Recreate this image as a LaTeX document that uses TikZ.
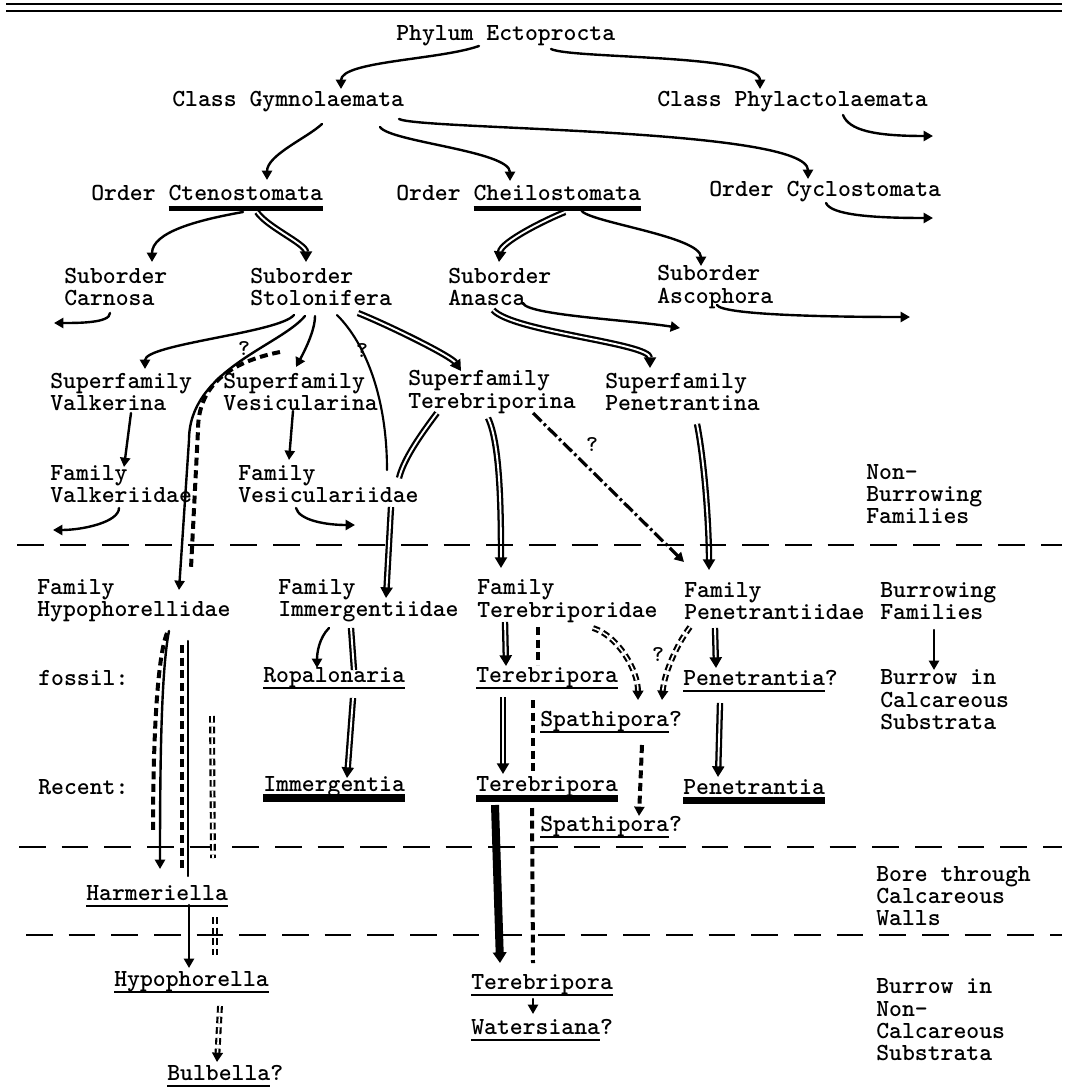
\documentclass[tikz,border=0pt]{standalone}
\usepackage{fontspec}
\usetikzlibrary{arrows.meta}

\newsavebox\ulbox
\newcommand\ulmark[3]{\sbox\ulbox{#3}\rlap{\smash{\rule[-#1]{\wd\ulbox}{#2}}}\usebox\ulbox}
\newcommand\thinul[1]{\ulmark{4.6pt}{1.3pt}{#1}}
\newcommand\orderul[1]{\ulmark{7.9pt}{3.8pt}{#1}}
\newcommand\heavyul[1]{\ulmark{7.5pt}{5.5pt}{#1}}

\tikzset{
  taxon/.style={font=\fontsize{18.4}{16.8}\selectfont\ttfamily\bfseries, inner sep=0pt, anchor=west, align=left},
  query/.style={font=\fontsize{17}{17}\selectfont\ttfamily\bfseries, inner sep=0pt},
  arr/.style={line width=1.8pt, line cap=round, -{Triangle[length=7pt,width=7.5pt]}},
  link/.style={line width=1.6pt, line cap=round},
  dbl/.style={double, double distance=1.4pt, line width=1.7pt},
  dblarr/.style={dbl, -{Triangle[length=8pt,width=9pt]}},
  brk/.style={line width=3pt, dash pattern=on 6pt off 3.5pt},
  brkarr/.style={brk, -{Triangle[length=7pt,width=7.5pt]}},
  brkdbl/.style={double, double distance=1.2pt, line width=1.6pt, dash pattern=on 5pt off 3pt},
  brkdblarr/.style={brkdbl, -{Triangle[length=7pt,width=8pt]}},
  dotarr/.style={line width=2.4pt, dash pattern=on 9pt off 2.5pt on 2pt off 2.5pt, -{Triangle[length=7pt,width=7.5pt]}},
  heavyarr/.style={line width=6pt, -{Triangle[length=8pt,width=10pt]}},
  divider/.style={line width=2.2pt, dash pattern=on 20pt off 12pt},
}

\begin{document}
\begin{tikzpicture}[x=0.75pt,y=-0.75pt]
\useasboundingbox (0,0) rectangle (1065,1088);

\draw[line width=1.1pt] (6,4) -- (1062,4);
\draw[line width=1.5pt] (6,11) -- (1062,11);

\node[taxon] (phylum) at (396,36) {Phylum Ectoprocta};
\node[taxon] (gymno) at (172,102) {Class Gymnolaemata};
\node[taxon] (phylacto) at (657,102) {Class Phylactolaemata};
\node[taxon] (cteno) at (91,193) {Order \orderul{Ctenostomata}};
\node[taxon] (cheilo) at (396,193) {Order \orderul{Cheilostomata}};
\node[taxon] (cyclo) at (709,192) {Order Cyclostomata};
\node[taxon] (carnosa) at (64,287) {Suborder\\Carnosa};
\node[taxon] (stolon) at (250,287) {Suborder\\Stolonifera};
\node[taxon] (anasca) at (448,287) {Suborder\\Anasca};
\node[taxon] (ascoph) at (657,287) {Suborder\\Ascophora};
\node[taxon] (valker) at (50,392) {Superfamily\\Valkerina};
\node[taxon] (vesicu) at (223,392) {Superfamily\\Vesicularina};
\node[taxon] (tereb) at (408,392) {Superfamily\\Terebriporina};
\node[taxon] (penetr) at (605,392) {Superfamily\\Penetrantina};
\node[taxon] (valkfam) at (50,484) {Family\\Valkeriidae};
\node[taxon] (vesfam) at (238,484) {Family\\Vesiculariidae};
\node[taxon] (nonburrow) at (866,494) {Non-\\Burrowing\\Families};
\node[taxon] (hypofam) at (37,601) {Family\\Hypophorellidae};
\node[taxon] (immfam) at (278,601) {Family\\Immergentiidae};
\node[taxon] (terfam) at (477,601) {Family\\Terebriporidae};
\node[taxon] (penfam) at (684,601) {Family\\Penetrantiidae};
\node[taxon] (burrowfam) at (880,601) {Burrowing\\Families};
\node[taxon] (fossil) at (38,678) {fossil:};
\node[taxon] (ropal) at (263,678) {\thinul{Ropalonaria}};
\node[taxon] (terebA) at (476,678) {\thinul{Terebripora}};
\node[taxon] (penA) at (683,678) {\thinul{Penetrantia}?};
\node[taxon] (burrowcalc) at (880,700) {Burrow in\\Calcareous\\Substrata};
\node[taxon] (spathA) at (540,722) {\thinul{Spathipora}?};
\node[taxon] (recent) at (38,787) {Recent:};
\node[taxon] (immerg) at (263,787) {\heavyul{Immergentia}};
\node[taxon] (terebB) at (476,787) {\heavyul{Terebripora}};
\node[taxon] (penB) at (683,787) {\heavyul{Penetrantia}};
\node[taxon] (spathB) at (540,827) {\thinul{Spathipora}?};
\node[taxon] (harmer) at (86,893) {\thinul{Harmeriella}};
\node[taxon] (bore) at (876,896) {Bore through\\Calcareous\\Walls};
\node[taxon] (hypoph) at (114,982) {\thinul{Hypophorella}};
\node[taxon] (terebC) at (471,985) {\thinul{Terebripora}};
\node[taxon] (burrownon) at (876,1020) {Burrow in\\Non-\\Calcareous\\Substrata};
\node[taxon] (waters) at (471,1027) {\thinul{Watersiana}?};
\node[taxon] (bulbella) at (167,1073) {\thinul{Bulbella}?};

\node[query] (q1) at (244,349) {?};
\node[query] (q2) at (362,351) {?};
\node[query] (q3) at (592,445) {?};
\node[query] (q4) at (658,654) {?};

\coordinate (phylend) at (933,136);
\coordinate (cycloend) at (933,218);
\coordinate (carnend) at (54,323);
\coordinate (anascaend) at (680,328);
\coordinate (ascophend) at (910,317);
\coordinate (valkend) at (53,530);
\coordinate (vesend) at (355,525);
\coordinate (stolbrk) at (280,352);
\coordinate (colC) at (212,716);

\draw[arr] ([shift={(83,10)}]phylum.west) .. controls +(-40,14) and +(0,-28) .. ([shift={(169,-13)}]gymno.west);
\draw[arr] ([shift={(155,13)}]phylum.west) .. controls +(20,10) and +(0,-35) .. ([shift={(103,-13)}]phylacto.west);
\draw[arr] ([shift={(186,13)}]phylacto.west) .. controls +(6,15) and +(-60,0) .. (phylend);
\draw[arr] ([shift={(150,22)}]gymno.west) .. controls +(-15,14) and +(0,-25) .. ([shift={(176,-13)}]cteno.west);
\draw[arr] ([shift={(208,25)}]gymno.west) .. controls +(10,15) and +(0,-30) .. ([shift={(114,-12)}]cheilo.west);
\draw[arr] ([shift={(227,17)}]gymno.west) .. controls +(21,11) and +(0,-51) .. ([shift={(99,-13)}]cyclo.west);
\draw[arr] ([shift={(117,11)}]cyclo.west) .. controls +(5,12) and +(-60,0) .. (cycloend);
\draw[arr] ([shift={(152,19)}]cteno.west) .. controls +(-45,8) and +(0,-30) .. ([shift={(88,-25)}]carnosa.west);
\draw[dblarr] ([shift={(166,19)}]cteno.west) .. controls +(10,15) and +(0,-18) .. ([shift={(56,-25)}]stolon.west);
\draw[dblarr] ([shift={(169,19)}]cheilo.west) .. controls +(-20,8) and +(2,-20) .. ([shift={(51,-25)}]anasca.west);
\draw[arr] ([shift={(185,17)}]cheilo.west) .. controls +(5,12) and +(0,-30) .. ([shift={(44,-21)}]ascoph.west);

\draw[arr] ([shift={(46,26)}]carnosa.west) .. controls +(0,10) and +(25,0) .. (carnend);
\draw[arr] ([shift={(44,28)}]stolon.west) .. controls +(-15,18) and +(0,-25) .. ([shift={(95,-23)}]valker.west);
\draw[arr] ([shift={(55,29)}]stolon.west) .. controls +(-25,30) and +(0,-70) .. ++(-116,124) -- ([shift={(142,-11)}]hypofam.west);
\draw[brk] (stolbrk) .. controls +(-50,10) and +(0,-45) .. ++(-82,78) -- ([shift={(154,-33)}]hypofam.west);
\draw[arr] ([shift={(65,29)}]stolon.west) .. controls +(0,15) and +(8,-15) .. ([shift={(73,-25)}]vesicu.west);
\draw[link] ([shift={(87,28)}]stolon.west) .. controls +(30,30) and +(0,-70) .. ([shift={(149,-14)}]vesfam.west);
\draw[dblarr] ([shift={(108,26)}]stolon.west) .. controls +(30,12) and +(-10,-15) .. ([shift={(53,-21)}]tereb.west);
\draw[dbl] ([shift={(29,21)}]tereb.west) .. controls +(-15,20) and +(5,-20) .. ([shift={(161,-6)}]vesfam.west);
\draw[dblarr] ([shift={(153,23)}]vesfam.west) -- ([shift={(108,-3)}]immfam.west);
\draw[arr] ([shift={(75,16)}]anasca.west) .. controls +(3,12) and +(-50,-8) .. (anascaend);
\draw[dblarr] ([shift={(45,23)}]anasca.west) .. controls +(20,22) and +(0,-25) .. ([shift={(45,-24)}]penetr.west);
\draw[arr] ([shift={(60,18)}]ascoph.west) .. controls +(5,10) and +(-80,0) .. (ascophend);

\draw[arr] ([shift={(81,21)}]valker.west) -- ([shift={(74,-17)}]valkfam.west);
\draw[arr] ([shift={(70,19)}]vesicu.west) -- ([shift={(51,-24)}]vesfam.west);
\draw[arr] ([shift={(69,24)}]valkfam.west) .. controls +(0,14) and +(30,0) .. (valkend);
\draw[arr] ([shift={(58,24)}]vesfam.west) .. controls +(3,12) and +(-30,0) .. (vesend);
\draw[dblarr] ([shift={(80,26)}]tereb.west) .. controls +(12,25) and +(0,-60) .. ([shift={(24,-33)}]terfam.west);
\draw[dotarr] ([shift={(125,21)}]tereb.west) -- ([shift={(0,-39)}]penfam.west);
\draw[dblarr] ([shift={(92,32)}]penetr.west) .. controls +(8,40) and +(0,-40) .. ([shift={(25,-31)}]penfam.west);

\draw[divider] (17,545) -- (1062,545);
\draw[divider] (19,847) -- (1062,847);
\draw[divider] (26,935) -- (1062,935);

\draw[arr] ([shift={(54,29)}]burrowfam.west) -- ([shift={(54,-30)}]burrowcalc.west);
\draw[arr] ([shift={(132,30)}]hypofam.west) .. controls +(-8,40) and +(0,-100) .. ([shift={(74,-24)}]harmer.west);
\draw[brk] ([shift={(130,32)}]hypofam.west) .. controls +(-12,30) and +(0,-60) .. ([shift={(67,-61)}]harmer.west);
\draw[link] ([shift={(151,40)}]hypofam.west) -- ([shift={(102,-17)}]harmer.west);
\draw[brk] ([shift={(145,44)}]hypofam.west) -- ([shift={(96,-24)}]harmer.west);
\draw[brkdbl] (colC) -- ([shift={(127,-35)}]harmer.west);
\draw[brkdbl] ([shift={(129,24)}]harmer.west) -- ([shift={(101,-27)}]hypoph.west);
\draw[brkdblarr] ([shift={(106,24)}]hypoph.west) -- ([shift={(50,-11)}]bulbella.west);
\draw[arr] ([shift={(103,12)}]harmer.west) -- ([shift={(75,-14)}]hypoph.west);

\draw[arr] ([shift={(51,27)}]immfam.west) .. controls +(-10,10) and +(0,-15) .. ([shift={(54,-10)}]ropal.west);
\draw[dbl] ([shift={(73,27)}]immfam.west) -- ([shift={(91,-8)}]ropal.west);
\draw[dblarr] ([shift={(90,20)}]ropal.west) -- ([shift={(84,-9)}]immerg.west);

\draw[dblarr] ([shift={(28,21)}]terfam.west) -- ([shift={(30,-12)}]terebA.west);
\draw[brk] ([shift={(61,26)}]terfam.west) -- ([shift={(62,-13)}]terebA.west);
\draw[dblarr] ([shift={(27,19)}]terebA.west) -- ([shift={(27,-13)}]terebB.west);
\draw[brk] ([shift={(57,22)}]terebA.west) -- ([shift={(57,-14)}]terebB.west);
\draw[brk] ([shift={(56,21)}]terebB.west) -- ([shift={(62,-22)}]terebC.west);
\draw[heavyarr] ([shift={(19,18)}]terebB.west) -- ([shift={(29,-22)}]terebC.west);
\draw[brkdblarr] ([shift={(116,27)}]terfam.west) .. controls +(25,8) and +(0,-30) .. ([shift={(98,-22)}]spathA.west);
\draw[brkdblarr] ([shift={(6,26)}]penfam.west) .. controls +(-15,20) and +(2,-25) .. ([shift={(122,-22)}]spathA.west);
\draw[brkarr] ([shift={(102,23)}]spathA.west) -- ([shift={(99,-11)}]spathB.west);
\draw[dblarr] ([shift={(31,27)}]penfam.west) -- ([shift={(33,-10)}]penA.west);
\draw[dblarr] ([shift={(37,25)}]penA.west) -- ([shift={(35,-10)}]penB.west);
\draw[arr] ([shift={(62,14)}]terebC.west) -- ([shift={(62,-13)}]waters.west);
\end{tikzpicture}
\end{document}
